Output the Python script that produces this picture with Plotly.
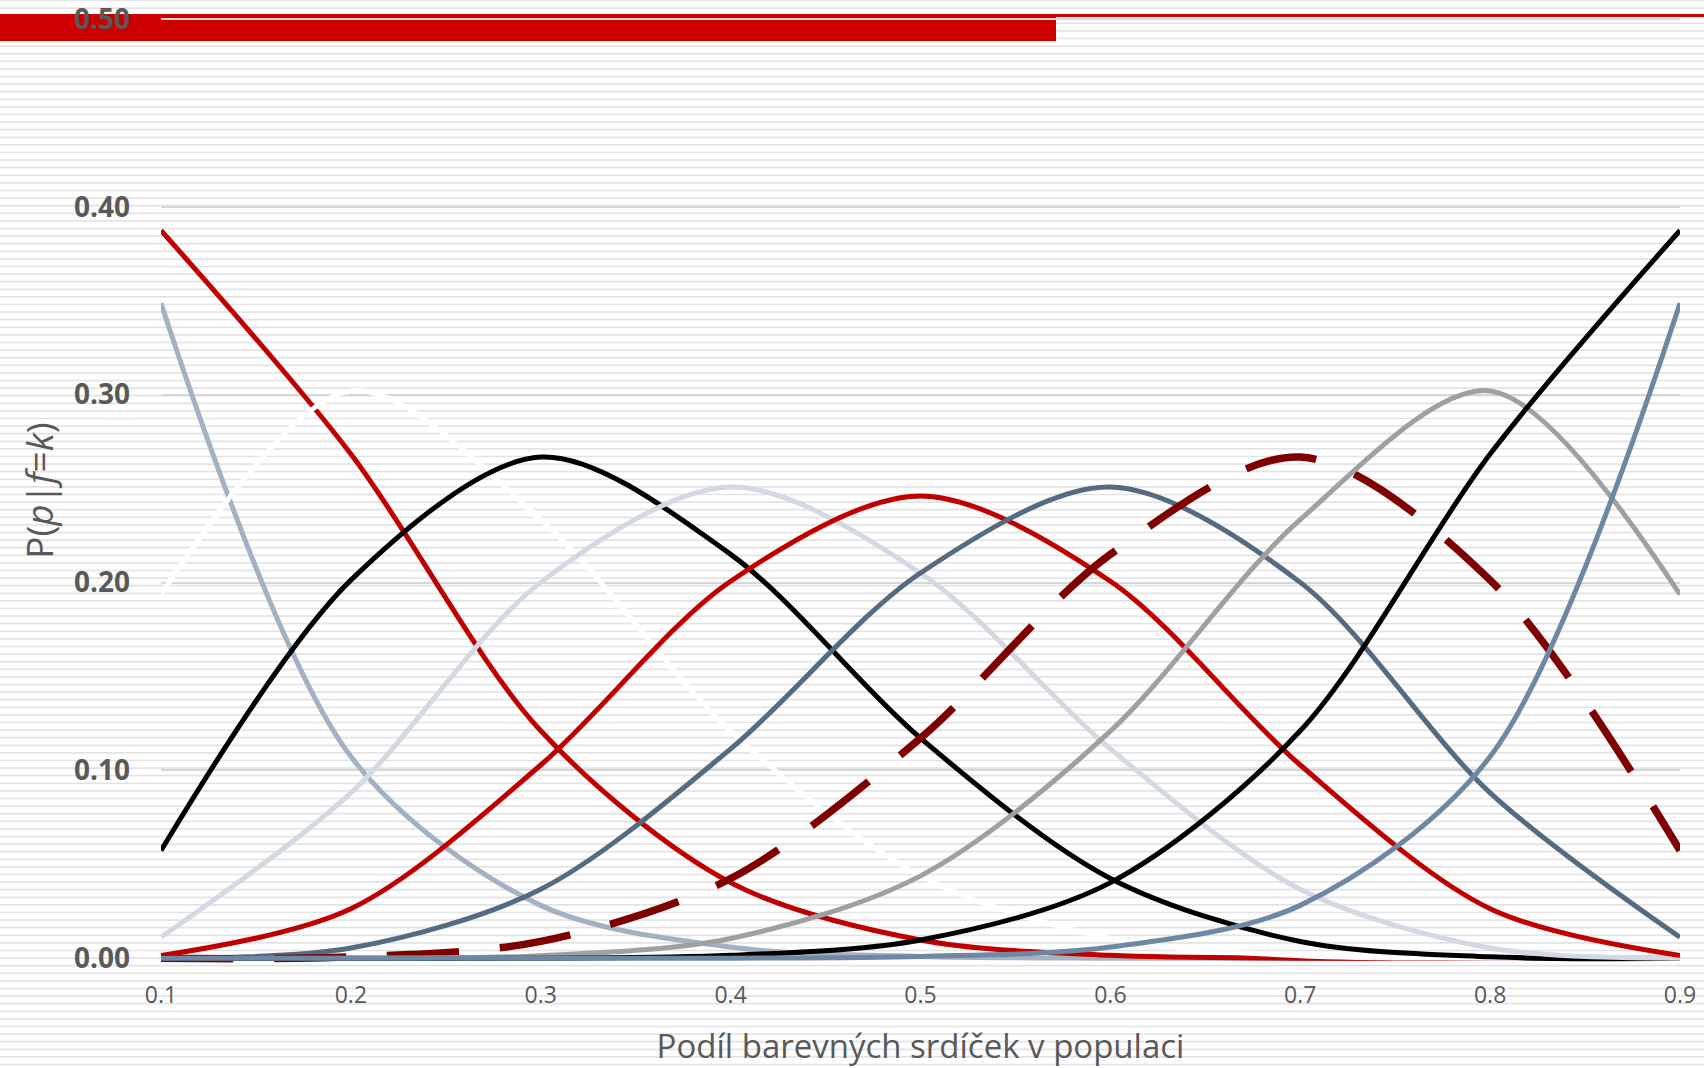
import plotly.graph_objects as go

# ---------------- data ----------------
p_values = [0.1, 0.2, 0.3, 0.4, 0.5, 0.6, 0.7, 0.8, 0.9]
x_tick_labels = ["0.1", "0.2", "0.3", "0.4", "0.5", "0.6", "0.7", "0.8", "0.9"]
y_tick_values = [0.0, 0.1, 0.2, 0.3, 0.4, 0.5]
y_tick_labels = ["0.00", "0.10", "0.20", "0.30", "0.40", "0.50"]

series_names = ["k=0", "k=1", "k=2", "k=3", "k=4", "k=5", "k=6", "k=7", "k=8", "k=9", "k=10"]
f0 = [0.3487, 0.1074, 0.0282, 0.0060, 0.0010, 0.0001, 0.0000, 0.0000, 0.0000]
f1 = [0.3874, 0.2684, 0.1211, 0.0403, 0.0098, 0.0016, 0.0001, 0.0000, 0.0000]
f2 = [0.1937, 0.3020, 0.2335, 0.1209, 0.0439, 0.0106, 0.0014, 0.0001, 0.0000]
f3 = [0.0574, 0.2013, 0.2668, 0.2150, 0.1172, 0.0425, 0.0090, 0.0008, 0.0000]
f4 = [0.0112, 0.0881, 0.2001, 0.2508, 0.2051, 0.1115, 0.0368, 0.0055, 0.0001]
f5 = [0.0015, 0.0264, 0.1029, 0.2007, 0.2461, 0.2007, 0.1029, 0.0264, 0.0015]
f6 = [0.0001, 0.0055, 0.0368, 0.1115, 0.2051, 0.2508, 0.2001, 0.0881, 0.0112]
f7 = [0.0000, 0.0008, 0.0090, 0.0425, 0.1172, 0.2150, 0.2668, 0.2013, 0.0574]
f8 = [0.0000, 0.0001, 0.0014, 0.0106, 0.0439, 0.1209, 0.2335, 0.3020, 0.1937]
f9 = [0.0000, 0.0000, 0.0001, 0.0016, 0.0098, 0.0403, 0.1211, 0.2684, 0.3874]
f10 = [0.0000, 0.0000, 0.0000, 0.0001, 0.0010, 0.0060, 0.0282, 0.1074, 0.3487]
series_values = [f0, f1, f2, f3, f4, f5, f6, f7, f8, f9, f10]

# ---------------- styles ----------------
line_colors = ["#A3B2C3", "#C00000", "#FFFFFF", "#000000", "#D2D9E2", "#C00000",
               "#566B82", "#7F0000", "#A0A0A0", "#000000", "#6E87A3"]
line_widths = [5, 5, 5, 5, 5, 5, 5, 7.5, 5, 5, 5]
line_dashes = ["solid"] * 7 + ["72px,41px"] + ["solid"] * 3

FONT = "Open Sans"
TXT = "#595959"

W, H = 1704, 1068
ML, MR, MT, MB = 161, 24, 17, 104
Y_RANGE = [-0.003, 0.501]

fig = go.Figure()
for name, vals, c, w, d in zip(series_names, series_values, line_colors, line_widths, line_dashes):
    fig.add_trace(go.Scatter(
        x=p_values, y=vals, name=name, mode="lines",
        line=dict(color=c, width=w, dash=d, shape="spline", smoothing=0.9),
        hoverinfo="x+y+name",
    ))

# background decoration: horizontal stripes across the page, and red header bar
pw = W - ML - MR
ph = H - MT - MB


def px_to_paper_x(px):
    return (px - ML) / pw


def px_to_paper_y(py):
    return (H - MB - py) / ph


shapes = []
y = 0.5
while y < H + 2:
    yp = px_to_paper_y(y)
    shapes.append(dict(type="line", xref="paper", yref="paper",
                       x0=px_to_paper_x(-5), x1=px_to_paper_x(W + 5), y0=yp, y1=yp,
                       line=dict(color="#E3E3E3", width=1.7), layer="below"))
    y += 7.6

shapes.append(dict(type="rect", xref="paper", yref="paper",
                   x0=px_to_paper_x(-5), x1=px_to_paper_x(1056),
                   y0=px_to_paper_y(41), y1=px_to_paper_y(14),
                   fillcolor="#CC0000", line=dict(width=0), layer="below"))
shapes.append(dict(type="rect", xref="paper", yref="paper",
                   x0=px_to_paper_x(1056), x1=px_to_paper_x(W + 5),
                   y0=px_to_paper_y(17), y1=px_to_paper_y(14),
                   fillcolor="#CC0000", line=dict(width=0), layer="below"))

fig.update_layout(
    width=W, height=H,
    margin=dict(l=ML, r=MR, t=MT, b=MB, pad=0, autoexpand=False),
    paper_bgcolor="#FFFFFF", plot_bgcolor="rgba(0,0,0,0)",
    showlegend=False,
    shapes=shapes,
    font=dict(family=FONT, color=TXT),
    xaxis=dict(
        range=[0.1, 0.9], tickmode="array", tickvals=p_values, ticktext=x_tick_labels,
        showgrid=False, zeroline=False, showline=False, ticks="",
        automargin=False, ticklabeloverflow="allow",
        tickfont=dict(family=FONT, size=23, color=TXT),
        ticklabelstandoff=15,
        title=dict(text="Podíl barevných srdíček v populaci",
                   font=dict(family=FONT, size=33, color=TXT), standoff=28),
    ),
    yaxis=dict(
        range=Y_RANGE, tickmode="array", tickvals=y_tick_values, ticktext=y_tick_labels,
        showgrid=True, gridcolor="#D6D6D6", gridwidth=1.5,
        zeroline=False, showline=False, ticks="",
        automargin=False, ticklabeloverflow="allow",
        tickfont=dict(family=FONT, size=28, color=TXT, weight="bold"),
        ticklabelstandoff=30,
        title=dict(text="P(<i>p</i>|<i>f</i>=<i>k</i>)",
                   font=dict(family=FONT, size=37, color=TXT), standoff=9),
    ),
)

fig.write_html("out.html", config={"displayModeBar": False},
               post_script="document.body.style.margin='0';")
